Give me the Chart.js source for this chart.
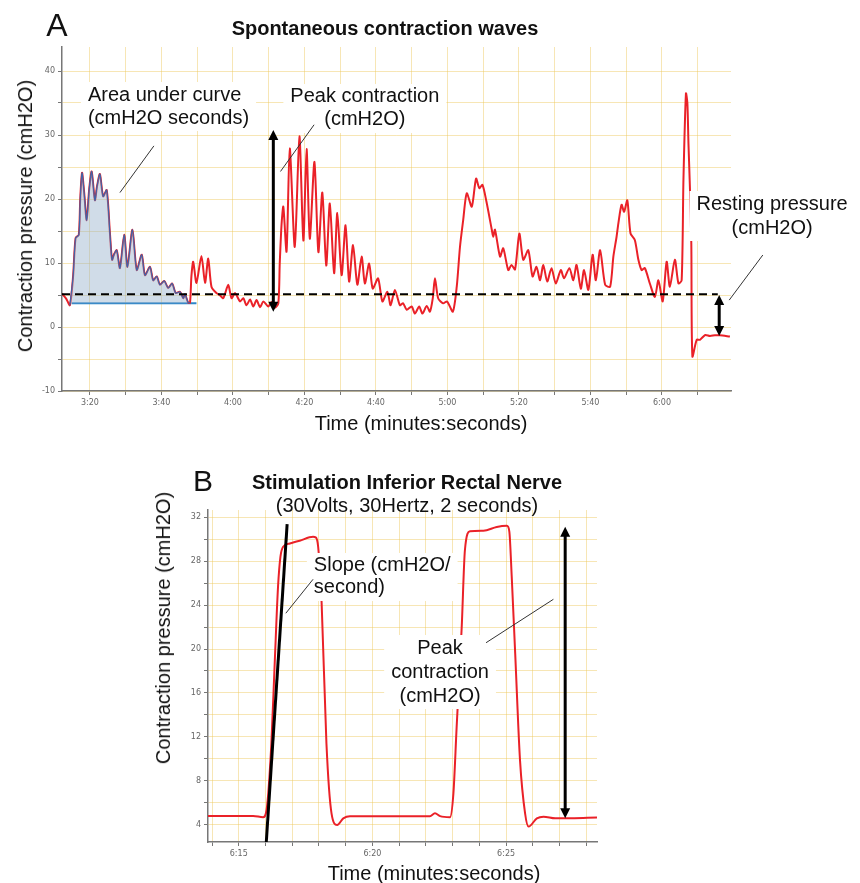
<!DOCTYPE html>
<html>
<head>
<meta charset="utf-8">
<script src="https://cdn.jsdelivr.net/npm/chart.js@4.4.1/dist/chart.umd.min.js"></script>
<style>
html,body{margin:0;padding:0;background:#fff;}
#wrap{position:relative;width:860px;height:883px;overflow:hidden;font-family:"Liberation Sans",Arial,sans-serif;color:#111;}
canvas{position:absolute;left:0;}
#cA{top:0;}
#cB{top:440px;}
.t{position:absolute;transform:translate(-50%,-50%);white-space:nowrap;line-height:1;font-size:20px;}
.rot{transform:translate(-50%,-50%) rotate(-90deg);}
</style>
</head>
<body>
<div id="wrap">
  <canvas id="cA" width="860" height="440"></canvas>
  <canvas id="cB" width="860" height="443"></canvas>
  <div class="t" style="left:57px;top:25px;font-size:32px">A</div>
  <div class="t" style="left:385px;top:28px;font-weight:bold">Spontaneous contraction waves</div>
  <div class="t rot" style="left:25px;top:216px">Contraction pressure (cmH2O)</div>
  <div class="t" style="left:421px;top:423px">Time (minutes:seconds)</div>
  <div class="t" style="left:203px;top:481px;font-size:30px">B</div>
  <div class="t" style="left:407px;top:482px;font-weight:bold">Stimulation Inferior Rectal Nerve</div>
  <div class="t" style="left:407px;top:505px">(30Volts, 30Hertz, 2 seconds)</div>
  <div class="t rot" style="left:163px;top:628px">Contraction pressure (cmH2O)</div>
  <div class="t" style="left:434px;top:873px">Time (minutes:seconds)</div>
</div>
<script>
// ---- panel A : spontaneous waves (time in s, pressure in cmH2O)
const timeA = [192.2,193.4,194.4,195.3,196.0,196.9,197.3,197.8,198.4,199.1,199.8,200.5,201.4,202.0,202.8,203.7,204.7,205.6,206.2,206.8,
  207.5,208.4,209.6,210.5,211.9,213.1,214.5,215.4,216.8,217.7,218.7,219.6,220.8,221.9,223.0,224.0,225.2,226.1,226.6,227.5,
  228.0,228.4,228.9,229.8,231.2,232.2,233.1,234.0,235.4,236.3,237.3,238.7,239.6,240.6,242.0,242.9,243.8,244.8,245.7,246.6,
  247.6,248.5,249.9,250.8,251.7,252.7,253.1,253.6,254.1,255.0,255.9,257.3,258.6,259.7,260.6,261.5,262.8,263.9,265.0,266.1,
  267.1,268.3,269.2,270.4,271.5,272.5,273.6,274.8,276.0,276.9,278.1,279.1,280.6,281.8,283.2,284.1,285.3,286.7,287.6,288.6,
  290.0,290.9,292.1,293.0,294.2,295.1,295.9,296.5,297.4,298.8,299.9,301.5,302.6,303.5,304.4,305.4,306.8,308.0,308.9,309.8,
  310.9,312.4,312.8,313.3,314.7,315.6,317.0,317.9,318.9,320.1,321.2,322.6,323.8,324.9,325.9,326.8,327.9,329.1,330.3,331.7,
  332.6,334.1,335.2,336.1,337.3,338.2,339.4,340.6,341.5,342.7,344.1,345.5,346.4,347.3,347.8,348.7,349.4,350.3,351.2,352.4,
  353.4,354.3,355.2,356.6,358.0,359.0,360.2,361.3,362.2,363.6,364.6,365.5,366.0,366.7,367.1,367.4,367.8,368.2,368.5,369.7,
  370.6,372.1,373.4,374.8,376.2,379.0];
const pressureA = [5.2,4.4,3.4,7.9,13.9,14.4,20.0,24.1,21.0,16.7,21.5,24.3,19.8,22.0,23.9,20.4,21.4,14.7,10.5,11.4,
  12.0,9.2,14.4,9.4,15.2,8.9,11.3,8.1,9.4,7.3,7.9,6.6,7.2,6.1,6.8,5.3,5.5,4.5,5.1,3.8,
  3.8,8.0,10.2,6.9,11.1,6.9,10.7,6.3,5.3,5.0,4.5,6.6,4.5,5.3,4.0,4.5,3.4,4.3,3.2,4.2,
  3.1,4.0,3.2,3.9,3.0,3.7,10.0,16.0,18.8,11.8,27.9,12.5,29.8,13.5,27.8,13.8,25.8,11.7,21.0,9.6,
  19.3,8.4,17.8,8.1,15.9,7.1,12.8,6.6,11.0,6.8,9.9,6.0,7.6,4.0,5.5,3.4,5.8,3.4,3.7,2.7,
  3.2,2.1,3.2,2.1,3.3,2.4,4.5,7.6,4.5,3.7,4.0,2.4,6.3,12.5,16.7,20.9,18.8,23.2,21.7,22.2,
  19.6,15.2,14.1,15.2,11.0,12.3,8.9,9.7,9.0,14.6,10.5,12.0,7.9,9.4,7.3,9.7,7.1,9.2,6.8,8.9,
  7.6,9.2,7.3,9.7,6.0,8.9,5.8,11.3,7.3,12.0,6.6,6.3,11.0,14.1,16.2,19.1,18.0,19.8,14.6,13.6,
  10.5,8.9,9.2,6.8,4.7,7.3,4.0,10.2,6.3,10.5,6.8,7.3,23.0,36.5,35.0,28.7,22.0,13.0,-4.6,-2.0,
  -2.0,-1.25,-1.4,-1.3,-1.3,-1.5];
const restLevelA = 5.1;          // dashed resting line
const restSpanA = [192.2, 375.6];
const areaBaseA = 3.7;           // area-under-curve baseline
const areaSpanA = [194.4, 228.0];
const areaLineA = [194.9, 229.8];

// ---- panel B : nerve stimulation
const timeB = [373.85,375.54,375.91,376.04,376.22,376.35,376.47,376.56,376.66,376.91,377.28,377.78,377.88,377.97,378.10,378.28,
  378.47,378.68,378.91,379.16,382.15,382.34,382.53,382.90,383.03,383.15,383.34,383.46,383.65,384.15,384.65,385.03,385.12,
  385.21,385.34,385.52,385.71,385.84,386.15,386.40,386.84,388.40];
const pressureB = [4.82,4.82,4.70,5.36,11.4,19.0,25.7,28.4,29.3,29.6,29.85,30.2,30.15,29.3,24.2,11.4,
  5.06,4.0,4.6,4.8,4.8,5.06,4.8,4.7,6.9,12.9,22.0,29.0,30.7,30.75,31.1,31.2,30.7,
  26.6,19.6,9.9,5.06,3.85,4.6,4.75,4.6,4.67];
const slopeTimeB = [376.03, 376.81];
const slopeValB = [2.45, 31.36];

const FONT = '"Liberation Sans", Arial, sans-serif';
const GRID = 'rgba(238,200,90,0.45)';
const mmss = s => Math.floor(Math.round(s) / 60) + ':' + String(Math.round(s) % 60).padStart(2, '0');
const pts = (xs, ys) => xs.map((x, i) => ({x, y: ys[i]}));

// arrows, leader lines and boxed labels, placed in data units
const marks = {
  id: 'marks',
  afterDatasetsDraw(chart, args, o) {
    const {ctx, scales: {x, y}} = chart;
    const px = v => x.getPixelForValue(v), py = v => y.getPixelForValue(v);
    ctx.save();
    ctx.font = '20px ' + FONT;
    ctx.textBaseline = 'middle';
    (o.labels || []).forEach(l => {
      const w = Math.max(...l.lines.map(s => ctx.measureText(s).width));
      const cx = px(l.x), cy = py(l.y);
      const left = l.align === 'left' ? cx : cx - w / 2;
      ctx.fillStyle = '#fff';
      ctx.fillRect(left - 7, cy - 13, w + 14, (l.lines.length - 1) * l.lh + 26);
      ctx.fillStyle = '#111';
      ctx.textAlign = l.align;
      l.lines.forEach((s, i) => ctx.fillText(s, cx, cy + i * l.lh));
    });
    ctx.strokeStyle = '#333';
    ctx.lineWidth = 1;
    (o.leaders || []).forEach(d => {
      ctx.beginPath();
      ctx.moveTo(px(d[0]), py(d[1]));
      ctx.lineTo(px(d[2]), py(d[3]));
      ctx.stroke();
    });
    ctx.strokeStyle = '#000';
    ctx.fillStyle = '#000';
    (o.arrows || []).forEach(a => {
      const ax = px(a.x), y1 = py(a.from), y2 = py(a.to);
      const dir = Math.sign(y2 - y1);
      ctx.lineWidth = 3;
      ctx.beginPath();
      ctx.moveTo(ax, y1 + dir * 6);
      ctx.lineTo(ax, y2 - dir * 6);
      ctx.stroke();
      [[y1, -dir], [y2, dir]].forEach(([yy, d]) => {
        ctx.beginPath();
        ctx.moveTo(ax, yy);
        ctx.lineTo(ax - 5, yy - d * 10);
        ctx.lineTo(ax + 5, yy - d * 10);
        ctx.closePath();
        ctx.fill();
      });
    });
    ctx.restore();
  }
};

function axes(o) {
  const tick = {color: '#666', font: {family: '"DejaVu Sans"', size: 8}, autoSkip: false, maxRotation: 0, includeBounds: false};
  return {
    x: {type: 'linear', min: o.xmin, max: o.xmax,
        grid: {color: GRID, tickColor: '#777', tickLength: 4}, border: {color: '#777', width: 1.5},
        ticks: {...tick, stepSize: o.xstep, padding: 3, callback: o.xlab},
        afterFit: s => { s.height = o.xh; }},
    y: {min: o.ymin, max: o.ymax,
        grid: {color: GRID, tickColor: '#777', tickLength: 4}, border: {color: '#777', width: 1.5},
        ticks: {...tick, stepSize: o.ystep, padding: 3, callback: o.ylab},
        afterFit: s => { s.width = o.yw; }}
  };
}

const common = {responsive: false, animation: false, events: [],
  elements: {point: {radius: 0}}};

const seriesA = pts(timeA, pressureA);
new Chart(document.getElementById('cA'), {
  type: 'line',
  data: {datasets: [
    {data: [{x: restSpanA[0], y: restLevelA}, {x: restSpanA[1], y: restLevelA}], borderColor: '#000',
     borderWidth: 2, borderDash: [8, 5], order: 0},
    {data: seriesA.filter(p => p.x >= areaSpanA[0] && p.x <= areaSpanA[1]), borderColor: '#3f63a8', borderWidth: 1.2,
     tension: 0.25, fill: {value: areaBaseA}, backgroundColor: 'rgba(150,178,205,0.45)', order: 1},
    {data: seriesA, borderColor: '#ea2128', borderWidth: 2, tension: 0.25, order: 2},
    {data: [{x: areaLineA[0], y: areaBaseA}, {x: areaLineA[1], y: areaBaseA}], borderColor: '#2f86c8', borderWidth: 2, order: 3}
  ]},
  options: {...common,
    layout: {padding: {left: 0, top: 47, right: 129, bottom: 0}},
    scales: axes({xmin: 192.2, xmax: 379.3, xstep: 10, xlab: v => Math.round(v) % 20 === 0 ? mmss(v) : '', xh: 49,
                  ymin: -10, ymax: 43.75, ystep: 5, ylab: v => v % 10 === 0 ? v : '', yw: 62}),
    plugins: {legend: {display: false}, tooltip: {enabled: false},
      marks: {
        labels: [
          {x: 199.44, y: 36.25, lh: 23, align: 'left', lines: ['Area under curve', '(cmH2O seconds)']},
          {x: 276.9, y: 35.94, lh: 23, align: 'center', lines: ['Peak contraction', '(cmH2O)']},
          {x: 390.8, y: 19.22, lh: 24, align: 'center', lines: ['Resting pressure', '(cmH2O)']}
        ],
        leaders: [[217.9, 28.3, 208.4, 21.0], [262.7, 31.6, 253.3, 24.3], [388.2, 11.25, 378.8, 4.2]],
        arrows: [{x: 251.3, from: 2.4, to: 30.8}, {x: 376.0, from: 5.0, to: -1.4}]
      }}
  },
  plugins: [marks]
});

new Chart(document.getElementById('cB'), {
  type: 'line',
  data: {datasets: [
    {data: pts(slopeTimeB, slopeValB), borderColor: '#000', borderWidth: 3, order: 0},
    {data: pts(timeB, pressureB), borderColor: '#ea2128', borderWidth: 2, cubicInterpolationMode: 'monotone', order: 1}
  ]},
  options: {...common,
    layout: {padding: {left: 0, top: 70, right: 263, bottom: 0}},
    scales: axes({xmin: 373.85, xmax: 388.4, xstep: 1, xlab: v => Math.round(v) % 5 === 0 ? mmss(v) : '', xh: 41,
                  ymin: 2.45, ymax: 32.64, ystep: 2, ylab: v => v % 4 === 0 ? v : '', yw: 208}),
    plugins: {legend: {display: false}, tooltip: {enabled: false},
      marks: {
        labels: [
          {x: 377.81, y: 27.55, lh: 22, align: 'left', lines: ['Slope (cmH2O/', 'second)']},
          {x: 382.53, y: 20.09, lh: 24, align: 'center', lines: ['Peak', 'contraction', '(cmH2O)']}
        ],
        leaders: [[377.78, 26.34, 376.76, 23.25], [386.77, 24.52, 384.25, 20.57]],
        arrows: [{x: 387.21, from: 4.6, to: 31.12}]
      }}
  },
  plugins: [marks]
});
</script>
</body>
</html>
